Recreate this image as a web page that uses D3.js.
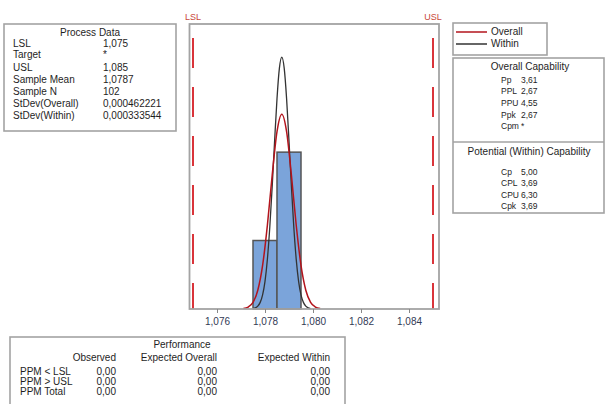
<!DOCTYPE html>
<html>
<head>
<meta charset="utf-8">
<script src="https://cdn.jsdelivr.net/npm/d3@7"></script>
<style>
  body { margin: 0; background: #fff; }
  svg { display: block; font-family: "Liberation Sans", Arial, sans-serif; }
</style>
</head>
<body>
<div id="main"></div>
<script>
// spec limits
const lsl = 1.075
const usl = 1.085

// histogram
const binStarts = [1.0775, 1.0785]
const binWidth = 0.001
const binCounts = [31, 71]

// fitted curves (count scale)
const overallX = [1.0771, 1.0773, 1.0775, 1.0777, 1.0779, 1.0781, 1.0783, 1.0785, 1.0787,
                  1.0789, 1.0791, 1.0793, 1.0795, 1.0797, 1.0799, 1.0801, 1.0803]
const overallY = [0.2, 0.9, 3.0, 8.5, 19.7, 38.0, 60.6, 80.3, 88.2,
                  80.3, 60.6, 38.0, 19.7, 8.5, 3.0, 0.9, 0.2]
const withinX = [1.0775, 1.0776, 1.0777, 1.0778, 1.0779, 1.0780, 1.0781, 1.0782, 1.0783, 1.0784, 1.0785, 1.0786,
                 1.0787, 1.0788, 1.0789, 1.0790, 1.0791, 1.0792, 1.0793, 1.0794, 1.0795, 1.0796, 1.0797, 1.0798, 1.0799]
const withinY = [0.2, 0.5, 1.3, 3.0, 6.4, 12.5, 22.6, 37.1, 55.5, 76.0, 95.2, 109,
                 114, 109, 95.2, 76.0, 55.5, 37.1, 22.6, 12.5, 6.4, 3.0, 1.3, 0.5, 0.2]

const xTicks = [1.076, 1.078, 1.080, 1.082, 1.084]

// text tables
const processLabels = ['LSL', 'Target', 'USL', 'Sample Mean', 'Sample N', 'StDev(Overall)', 'StDev(Within)']
const processValues = ['1,075', '*', '1,085', '1,0787', '102', '0,000462221', '0,000333544']
const overallLabels = ['Pp', 'PPL', 'PPU', 'Ppk', 'Cpm']
const overallValues = ['3,61', '2,67', '4,55', '2,67', '*']
const withinLabels = ['Cp', 'CPL', 'CPU', 'Cpk']
const withinValues = ['5,00', '3,69', '6,30', '3,69']
const perfHeaders = ['Observed', 'Expected Overall', 'Expected Within']
const perfRows = ['PPM < LSL', 'PPM > USL', 'PPM Total']
const perfObserved = ['0,00', '0,00', '0,00']
const perfOverall = ['0,00', '0,00', '0,00']
const perfWithin = ['0,00', '0,00', '0,00']

const ctx = { w: 605, h: 404, fs: 10, txt: '#1e1e1e', box: '#a3a3a3', red: '#b3141c' }

function box(svg, x, y, w, h) {
    svg.append('rect').attr('x', x).attr('y', y).attr('width', w).attr('height', h)
        .attr('fill', 'none').attr('stroke', ctx.box).attr('stroke-width', 1.6)
}

function txt(svg, x, y, s, anchor, size) {
    return svg.append('text').attr('x', x).attr('y', y)
        .attr('font-size', size || ctx.fs).attr('fill', ctx.txt)
        .attr('text-anchor', anchor || 'start').text(s)
}

function createViz() {
    let svg = d3.select('#main').append('svg')
        .attr('width', ctx.w).attr('height', ctx.h)

    // Process data table
    box(svg, 4, 24, 172, 107)
    txt(svg, 90, 36, 'Process Data', 'middle')
    let pY = [47, 58, 71, 83, 95, 107, 119]
    processLabels.forEach((l, i) => {
        txt(svg, 13, pY[i], l)
        txt(svg, 103, pY[i], processValues[i])
    })

    // histogram panel
    let x = d3.scaleLinear().domain([lsl, usl]).range([193, 433])
    let y = d3.scaleLinear().domain([0, 129]).range([309, 24])
    let fmt = d3.formatLocale({ decimal: ',', thousands: '.', grouping: [3], currency: ['', ''] }).format('.3f')

    let plot = svg.append('g')

    plot.selectAll('rect.bar')
        .data(binStarts)
        .join('rect')
        .attr('class', 'bar')
        .attr('x', d => x(d))
        .attr('width', d => x(d + binWidth) - x(d))
        .attr('y', (d, i) => y(binCounts[i]))
        .attr('height', (d, i) => y(0) - y(binCounts[i]))
        .attr('fill', '#7ba4da')
        .attr('stroke', '#555')
        .attr('stroke-width', 1.5)

    let line = d3.line().curve(d3.curveMonotoneX)
    plot.append('path')
        .datum(withinX.map((v, i) => [x(v), y(withinY[i])]))
        .attr('fill', 'none').attr('stroke', '#333').attr('stroke-width', 1.3)
        .attr('d', line)
    plot.append('path')
        .datum(overallX.map((v, i) => [x(v), y(overallY[i])]))
        .attr('fill', 'none').attr('stroke', ctx.red).attr('stroke-width', 1.5)
        .attr('d', line)

    // spec limit lines
    ;[lsl, usl].forEach((v, i) => {
        plot.append('line')
            .attr('x1', x(v)).attr('x2', x(v))
            .attr('y1', 38).attr('y2', 309)
            .attr('stroke', '#d9343a').attr('stroke-width', 2)
            .attr('stroke-dasharray', '30,19')
        plot.append('text')
            .attr('x', x(v)).attr('y', 20)
            .attr('text-anchor', 'middle')
            .attr('font-size', 9).attr('fill', '#c8483a')
            .text(i == 0 ? 'LSL' : 'USL')
    })

    // frame
    plot.append('rect').attr('x', 189.5).attr('y', 24).attr('width', 249.5).attr('height', 285)
        .attr('fill', 'none').attr('stroke', ctx.box).attr('stroke-width', 1.8)

    // x axis
    let axis = plot.append('g').attr('transform', 'translate(0,309)')
        .call(d3.axisBottom(x).tickValues(xTicks).tickFormat(fmt).tickSize(4).tickSizeOuter(0))
    axis.select('.domain').remove()
    axis.selectAll('line').attr('stroke', '#888')
    axis.selectAll('text').attr('font-size', 10).attr('fill', '#333a55').attr('dy', '0.9em')
        .attr('font-family', '"Liberation Sans", Arial, sans-serif')

    // legend
    box(svg, 453, 23, 94, 32)
    svg.append('line').attr('x1', 456).attr('x2', 487).attr('y1', 32).attr('y2', 32)
        .attr('stroke', ctx.red).attr('stroke-width', 1.5)
    svg.append('line').attr('x1', 456).attr('x2', 487).attr('y1', 44).attr('y2', 44)
        .attr('stroke', '#333').attr('stroke-width', 1.5)
    txt(svg, 491, 35, 'Overall')
    txt(svg, 491, 47, 'Within')

    // capability table
    box(svg, 453, 58, 151, 155)
    svg.append('line').attr('x1', 453).attr('x2', 604).attr('y1', 142).attr('y2', 142)
        .attr('stroke', ctx.box).attr('stroke-width', 1.6)
    txt(svg, 530, 70, 'Overall Capability', 'middle')
    let oY = [83, 94, 106, 118, 129]
    overallLabels.forEach((l, i) => {
        txt(svg, 501, oY[i], l, 'start', 8.5)
        txt(svg, 521, oY[i], overallValues[i], 'start', 8.5)
    })
    txt(svg, 529, 155, 'Potential (Within) Capability', 'middle')
    let wY = [175, 186, 198, 209]
    withinLabels.forEach((l, i) => {
        txt(svg, 501, wY[i], l, 'start', 8.5)
        txt(svg, 521, wY[i], withinValues[i], 'start', 8.5)
    })

    // performance table
    box(svg, 10, 337, 335, 80)
    txt(svg, 182, 348, 'Performance', 'middle')
    let colX = [116, 217, 330]
    perfHeaders.forEach((h, i) => txt(svg, colX[i], 361, h, 'end'))
    let rY = [375, 385, 395]
    perfRows.forEach((r, i) => {
        txt(svg, 20, rY[i], r)
        txt(svg, colX[0], rY[i], perfObserved[i], 'end')
        txt(svg, colX[1], rY[i], perfOverall[i], 'end')
        txt(svg, colX[2], rY[i], perfWithin[i], 'end')
    })
}

createViz()
</script>
</body>
</html>
